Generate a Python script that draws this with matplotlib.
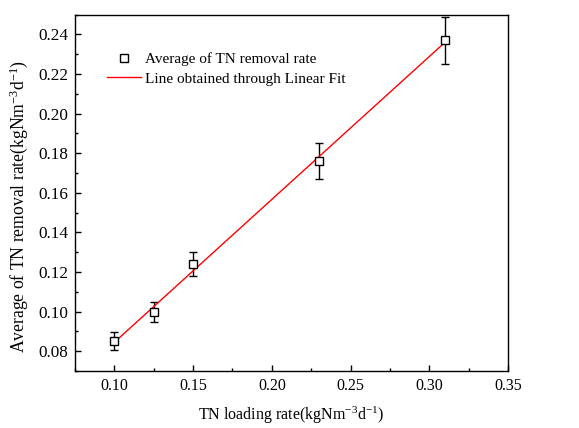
import numpy as np
import matplotlib
matplotlib.use("Agg")
import matplotlib.pyplot as plt
from matplotlib.ticker import MultipleLocator, FormatStrFormatter

plt.rcParams['font.family'] = ['Liberation Serif', 'DejaVu Serif']
plt.rcParams['mathtext.fontset'] = 'custom'
plt.rcParams['mathtext.rm'] = 'Liberation Serif'
plt.rcParams['mathtext.it'] = 'Liberation Serif:italic'

loading = [0.10, 0.125, 0.15, 0.23, 0.31]
removal = [0.085, 0.100, 0.124, 0.176, 0.237]
err = [0.0045, 0.005, 0.006, 0.009, 0.012]

slope, intercept = np.polyfit(loading, removal, 1)
fit_x = np.array([min(loading), max(loading)])
fit_y = slope * fit_x + intercept

fig = plt.figure(figsize=(5.79, 4.28), dpi=100)
ax = fig.add_axes([0.1295, 0.1332, 0.8774 - 0.1295, 0.9657 - 0.1332])

ax.errorbar(loading, removal, yerr=err, fmt='none', ecolor='black',
            elinewidth=1.0, capsize=2.6, capthick=1.0, zorder=2)
ax.plot(fit_x, fit_y, color='red', lw=1.0, zorder=3,
        label='Line obtained through Linear Fit')
ax.plot(loading, removal, ls='none', marker='s', ms=5.3, mfc='white',
        mec='black', mew=1.0, zorder=4, label='Average of TN removal rate')

ax.set_xlim(0.075, 0.35)
ax.set_ylim(0.07, 0.25)
ax.xaxis.set_major_locator(MultipleLocator(0.05))
ax.xaxis.set_minor_locator(MultipleLocator(0.025))
ax.yaxis.set_minor_locator(MultipleLocator(0.01))
ax.xaxis.set_major_formatter(FormatStrFormatter('%.2f'))
ax.yaxis.set_major_formatter(FormatStrFormatter('%.2f'))
ax.set_yticks([0.08, 0.10, 0.12, 0.14, 0.16, 0.18, 0.20, 0.22, 0.24])

ax.tick_params(which='both', direction='in', top=False, right=False,
               width=1.0, pad=5)
ax.tick_params(axis='x', labelsize=11.5)
ax.tick_params(axis='y', labelsize=12.3)
ax.tick_params(which='major', length=4)
ax.tick_params(which='minor', length=2.5)
for s in ax.spines.values():
    s.set_linewidth(1.0)

ax.set_xlabel(r'TN loading rate(kgNm$^{\mathrm{-3}}$d$^{\mathrm{-1}}$)', fontsize=11.5, labelpad=8)
ax.set_ylabel(r'Average of TN removal rate(kgNm$^{\mathrm{-3}}$d$^{\mathrm{-1}}$)', fontsize=12.7)
ax.yaxis.set_label_coords(-0.104, 0.463)

h, l = ax.get_legend_handles_labels()
ax.legend([h[1], h[0]], [l[1], l[0]], loc='upper left', bbox_to_anchor=(0.074, 0.895),
          frameon=False, fontsize=11, borderpad=0, borderaxespad=0,
          handlelength=2.2, handletextpad=0.3, labelspacing=0.4)

fig.savefig('out.png', dpi=100)
